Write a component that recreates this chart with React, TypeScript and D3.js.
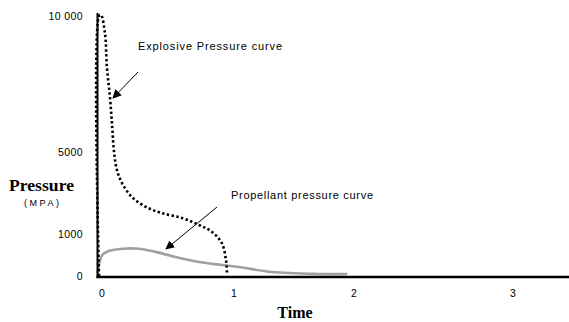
import React from "react";
import * as d3 from "d3";

const yTicks = [0, 1000, 5000, 10000];
const yTickLabels = ["0", "1000", "5000", "10 000"];
const xTicks = [0, 1, 2, 3];
const xTickLabels = ["0", "1", "2", "3"];

const explosiveT = [0, 0.0, 0.015, 0.045, 0.06, 0.083, 0.1, 0.114, 0.136, 0.174, 0.25, 0.356, 0.477, 0.63, 0.758, 0.856, 0.93, 0.962, 0.97];
const explosiveP = [0, 10000, 10040, 9375, 8125, 7020, 5920, 5000, 4120, 3490, 2800, 2320, 2020, 1780, 1440, 1100, 786, 380, 50];

const propellantT = [-0.01, 0.025, 0.08, 0.18, 0.3, 0.42, 0.58, 0.76, 0.93, 1.067, 1.34, 1.73, 1.97];
const propellantP = [70, 500, 600, 650, 650, 580, 452, 333, 262, 214, 95, 48, 48];

const W = 569;
const H = 322;

export default function App() {
  const x = d3.scaleLinear().domain([0, 1, 2, 3]).range([99, 231, 351, 513]);
  const y = d3.scaleLinear().domain([0, 1000, 5000, 10000]).range([276, 234, 152, 16]);

  const explosive = explosiveT.map((t, i) => [t, explosiveP[i]] as [number, number]);
  const propellant = propellantT.map((t, i) => [t, propellantP[i]] as [number, number]);

  const lineSmooth = d3
    .line<[number, number]>()
    .x((d) => x(d[0]))
    .y((d) => y(d[1]))
    .curve(d3.curveCatmullRom.alpha(0.5));

  const sans = "'Liberation Sans', Arial, sans-serif";
  const serif = "'Liberation Serif', 'Times New Roman', serif";

  return (
    <svg
      width={W}
      height={H}
      style={{ position: "absolute", left: 0, top: 0, background: "#fff" }}
    >
      <defs>
        <marker
          id="ah"
          viewBox="0 0 10 10"
          refX="9"
          refY="5"
          markerWidth="9"
          markerHeight="9"
          orient="auto"
          markerUnits="userSpaceOnUse"
        >
          <path d="M0,0 L10,5 L0,10 z" fill="#000" />
        </marker>
      </defs>
      <rect width={W} height={H} fill="#fff" />

      {/* propellant curve */}
      <path d={lineSmooth(propellant) || ""} fill="none" stroke="#a0a0a0" strokeWidth={2.6} />

      {/* explosive curve */}
      <path
        d={lineSmooth(explosive) || ""}
        fill="none"
        stroke="#000"
        strokeWidth={2.6}
        strokeDasharray="2.4 2.4"
      />

      {/* axes */}
      <line x1={97.5} x2={97.5} y1={13} y2={278} stroke="#000" strokeWidth={2} />
      <line x1={96.5} x2={569} y1={277} y2={277} stroke="#000" strokeWidth={2.5} />

      {/* y tick labels */}
      {yTicks.map((v, i) => (
        <text
          key={"y" + v}
          x={83}
          y={y(v) + 4}
          textAnchor="end"
          fontFamily={sans}
          fontSize={10.5}
          letterSpacing={0.4}
          fill="#000"
        >
          {yTickLabels[i]}
        </text>
      ))}

      {/* x tick labels */}
      {xTicks.map((v, i) => (
        <text
          key={"x" + v}
          x={x(v) + (i === 3 ? 0 : 3)}
          y={297}
          textAnchor="middle"
          fontFamily={sans}
          fontSize={10.5}
          fill="#000"
        >
          {xTickLabels[i]}
        </text>
      ))}

      {/* axis titles */}
      <text x={9} y={191} fontFamily={serif} fontWeight="bold" fontSize={17.5} textLength={65} lengthAdjust="spacingAndGlyphs" fill="#000">
        Pressure
      </text>
      <text x={24} y={206} fontFamily={sans} fontSize={9} textLength={35} lengthAdjust="spacing" fill="#000">
        (MPA)
      </text>
      <text x={295} y={318} textAnchor="middle" fontFamily={serif} fontWeight="bold" fontSize={16} fill="#000">
        Time
      </text>

      {/* annotations */}
      <text x={138} y={50} fontFamily={sans} fontSize={11} textLength={144} lengthAdjust="spacing" fill="#000">
        Explosive Pressure curve
      </text>
      <line x1={138} y1={72} x2={113} y2={98} stroke="#000" strokeWidth={1} markerEnd="url(#ah)" />

      <text x={231} y={199} fontFamily={sans} fontSize={11} textLength={142} lengthAdjust="spacing" fill="#000">
        Propellant pressure curve
      </text>
      <line x1={217} y1={207} x2={166} y2={249} stroke="#000" strokeWidth={1} markerEnd="url(#ah)" />
    </svg>
  );
}
